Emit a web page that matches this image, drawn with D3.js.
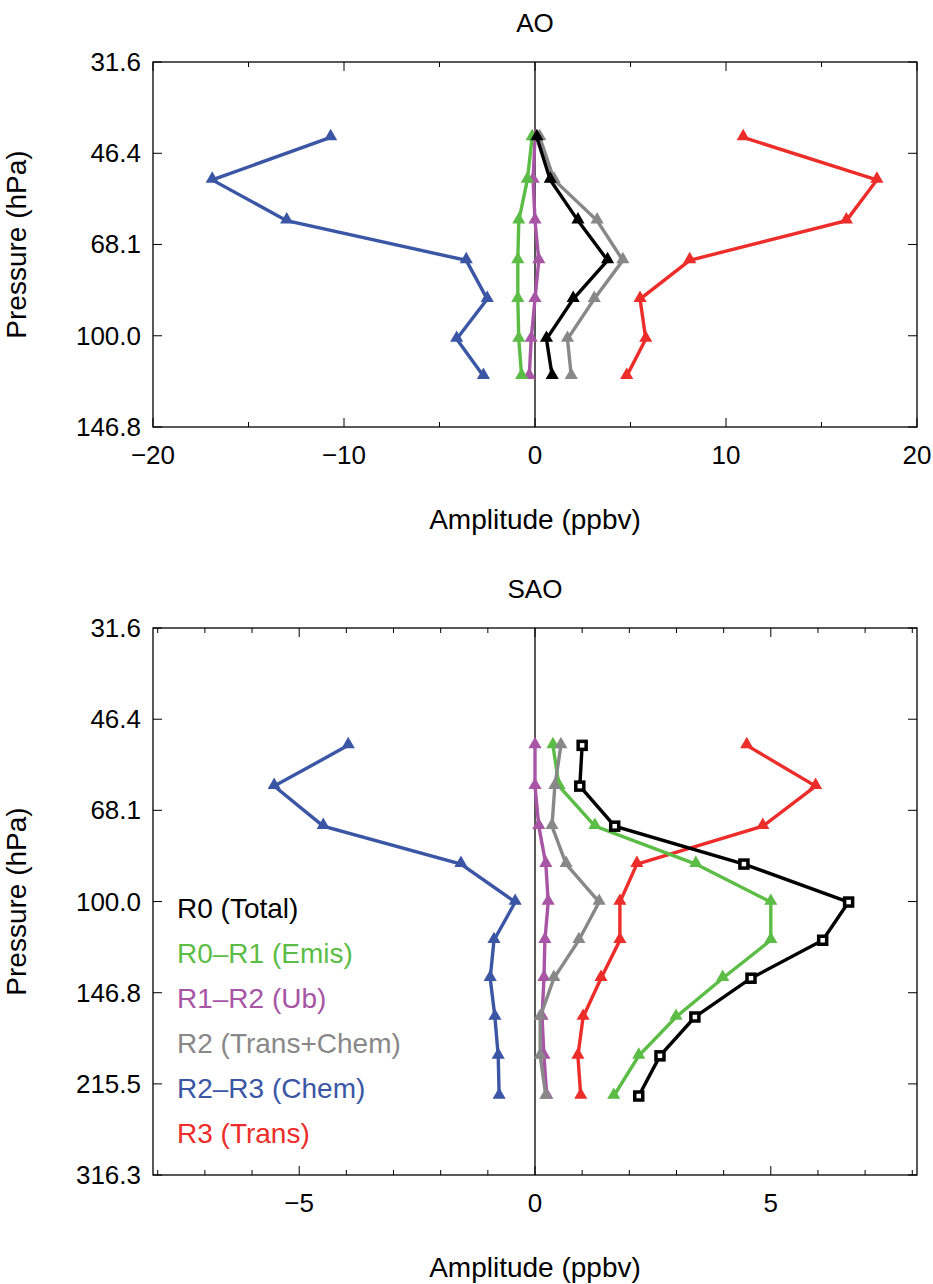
<!DOCTYPE html>
<html><head><meta charset="utf-8">
<script src="https://cdn.jsdelivr.net/npm/d3@7"></script>
<style>body{margin:0;background:#fff}text{font-family:"Liberation Sans",Arial,sans-serif}</style>
</head><body><svg id="c" width="933" height="1284"></svg>
<script>
// pressure levels (hPa)
const aoLevels = [43.4, 51.9, 61.6, 72.8, 85.7, 101.4, 118.5];
const saoLevels = [51.8, 61.5, 72.8, 85.4, 100.2, 117.7, 138.1, 162.6, 191.5, 226.8];

const seriesNames = ["R0 (Total)", "R0\u2013R1 (Emis)", "R1\u2013R2 (Ub)", "R2 (Trans+Chem)", "R2\u2013R3 (Chem)", "R3 (Trans)"];
const seriesColors = ["#000000", "#5cbd46", "#a855a6", "#888888", "#3a56a5", "#ec2d2a"];

// AO amplitudes (ppbv), order: total, emis, ub, trans+chem, chem, trans
const aoTotal = [0.1, 0.8, 2.25, 3.8, 2.0, 0.6, 0.9];
const aoEmis = [-0.15, -0.4, -0.85, -0.9, -0.9, -0.85, -0.7];
const aoUb = [0, -0.1, 0, 0.2, 0, -0.2, -0.3];
const aoTransChem = [0.25, 1.0, 3.25, 4.6, 3.1, 1.7, 1.9];
const aoChem = [-10.7, -16.9, -13.0, -3.6, -2.5, -4.1, -2.7];
const aoTrans = [10.9, 17.9, 16.3, 8.1, 5.5, 5.8, 4.8];

// SAO amplitudes (ppbv)
const saoTotal = [1.0, 0.95, 1.69, 4.43, 6.65, 6.1, 4.58, 3.39, 2.65, 2.2];
const saoEmis = [0.38, 0.51, 1.27, 3.41, 5.0, 5.0, 3.98, 2.99, 2.2, 1.67];
const saoUb = [0, 0, 0.08, 0.23, 0.28, 0.21, 0.19, 0.15, 0.19, 0.25];
const saoTransChem = [0.55, 0.42, 0.36, 0.66, 1.36, 0.93, 0.4, 0.11, 0.11, 0.23];
const saoChem = [-3.96, -5.53, -4.49, -1.57, -0.42, -0.87, -0.95, -0.85, -0.78, -0.76];
const saoTrans = [4.49, 5.95, 4.83, 2.16, 1.8, 1.8, 1.4, 1.02, 0.91, 0.97];

const aoTicksY = [31.6, 46.4, 68.1, 100.0, 146.8];
const saoTicksY = [31.6, 46.4, 68.1, 100.0, 146.8, 215.5, 316.3];

const svg = d3.select("#c");
const L = 153, R = 917;

function panel(opt) {
  const g = svg.append("g");
  const x = d3.scaleLinear().domain(opt.xdom).range([L, R]);
  const y = d3.scaleLog().domain([opt.yt[0], opt.yt[opt.yt.length - 1]]).range([opt.top, opt.bottom]);
  g.append("rect").attr("x", L).attr("y", opt.top).attr("width", R - L).attr("height", opt.bottom - opt.top)
    .attr("fill", "none").attr("stroke", "#000").attr("stroke-width", 1.3);
  // x ticks
  opt.xminor.forEach(v => {
    const len = opt.xmajor.includes(v) ? 9 : 5;
    g.append("line").attr("x1", x(v)).attr("x2", x(v)).attr("y1", opt.bottom).attr("y2", opt.bottom - len).attr("stroke", "#000");
    g.append("line").attr("x1", x(v)).attr("x2", x(v)).attr("y1", opt.top).attr("y2", opt.top + len).attr("stroke", "#000");
  });
  opt.xmajor.forEach(v => g.append("text").attr("x", x(v)).attr("y", opt.bottom + 37).attr("text-anchor", "middle")
    .attr("font-size", 26).text(v < 0 ? "\u2212" + Math.abs(v) : v));
  opt.yt.forEach(v => {
    g.append("line").attr("x1", L).attr("x2", L + 9).attr("y1", y(v)).attr("y2", y(v)).attr("stroke", "#000");
    g.append("line").attr("x1", R).attr("x2", R - 9).attr("y1", y(v)).attr("y2", y(v)).attr("stroke", "#000");
    g.append("text").attr("x", L - 12).attr("y", y(v) + 9).attr("text-anchor", "end").attr("font-size", 26).text(v.toFixed(1));
  });
  g.append("line").attr("x1", x(0)).attr("x2", x(0)).attr("y1", opt.top).attr("y2", opt.bottom).attr("stroke", "#000").attr("stroke-width", 1.3);
  g.append("text").attr("x", (L + R) / 2).attr("y", opt.top - 30).attr("text-anchor", "middle").attr("font-size", 26).text(opt.title);
  g.append("text").attr("x", (L + R) / 2).attr("y", opt.bottom + 102).attr("text-anchor", "middle").attr("font-size", 28).text("Amplitude (ppbv)");
  g.append("text").attr("transform", `translate(26,${(opt.top + opt.bottom) / 2}) rotate(-90)`).attr("text-anchor", "middle")
    .attr("font-size", 28).text("Pressure (hPa)");

  const line = d3.line().x(d => x(d[0])).y(d => y(d[1]));
  const tri = d3.symbol().type(d3.symbolTriangle).size(75);
  // draw order: chem, trans, ub, emis, trans+chem, total
  [4, 5, 2, 1, 3, 0].forEach(i => {
    const pts = opt.series[i].map((v, k) => [v, opt.levels[k]]);
    g.append("path").attr("d", line(pts)).attr("fill", "none").attr("stroke", seriesColors[i]).attr("stroke-width", 3.4);
    if (i === 0 && opt.squares) {
      g.selectAll(null).data(pts).join("rect").attr("x", d => x(d[0]) - 4).attr("y", d => y(d[1]) - 4)
        .attr("width", 8).attr("height", 8).attr("fill", "#fff").attr("stroke", "#000").attr("stroke-width", 3.5);
    } else {
      g.selectAll(null).data(pts).join("path").attr("d", tri)
        .attr("transform", d => `translate(${x(d[0])},${y(d[1]) - 1})`).attr("fill", seriesColors[i]);
    }
  });
  if (opt.legend) {
    seriesNames.forEach((n, i) => g.append("text").attr("x", 177).attr("y", 918 + i * 45)
      .attr("font-size", 28).attr("fill", seriesColors[i]).text(n));
  }
}

panel({
  title: "AO", top: 62, bottom: 427, xdom: [-20, 20],
  xmajor: [-20, -10, 0, 10, 20], xminor: d3.range(-20, 21, 5),
  yt: aoTicksY, levels: aoLevels,
  series: [aoTotal, aoEmis, aoUb, aoTransChem, aoChem, aoTrans], squares: false, legend: false
});
panel({
  title: "SAO", top: 628, bottom: 1175, xdom: [-8.1, 8.1],
  xmajor: [-5, 0, 5], xminor: d3.range(-8, 9, 1),
  yt: saoTicksY, levels: saoLevels,
  series: [saoTotal, saoEmis, saoUb, saoTransChem, saoChem, saoTrans], squares: true, legend: true
});
</script></body></html>
